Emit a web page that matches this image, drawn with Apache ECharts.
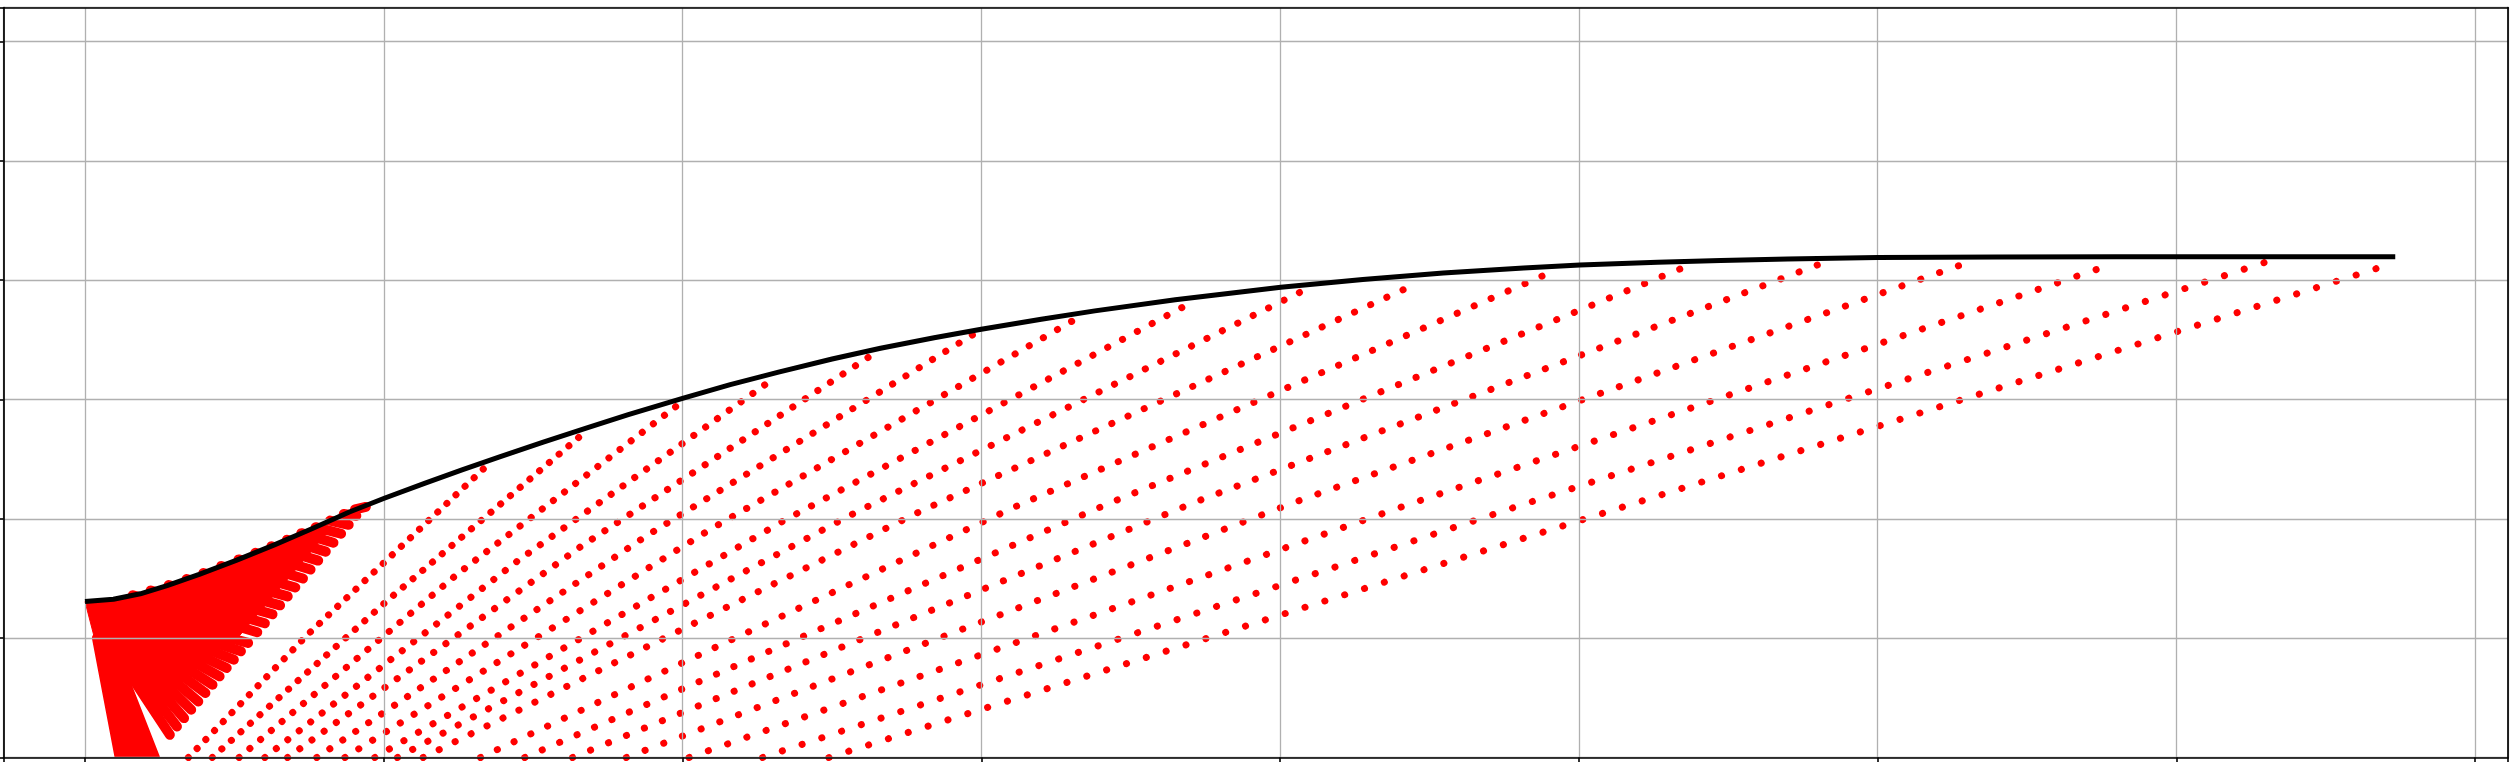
<!DOCTYPE html>
<html>
<head>
<meta charset="utf-8">
<script src="https://cdn.jsdelivr.net/npm/echarts@6/dist/echarts.min.js"></script>
<style>
html,body{margin:0;padding:0;background:#ffffff;}
#chart{width:2520px;height:762px;}
</style>
</head>
<body>
<div id="chart"></div>
<script>
// ---------------- DATA ----------------
// Nozzle wall contour (black curve)
const wallX = [0, 0.0476, 0.0925, 0.1373, 0.1912, 0.2540, 0.3169, 0.3797, 0.4425, 0.5009,
  0.5682, 0.6310, 0.6939, 0.7657, 0.8375, 0.9093, 1.0000, 1.0799, 1.1607, 1.2504,
  1.3314, 1.4211, 1.5000, 1.6004, 1.6901, 1.8247, 2.0013, 2.1386, 2.2731, 2.4076,
  2.5018, 2.6318, 2.7377, 2.8495, 3.0000, 3.2000, 3.4000, 3.6000, 3.8665];
const wallY = [0.2614, 0.2653, 0.2744, 0.2881, 0.3068, 0.3307, 0.3563, 0.3835, 0.4115, 0.4345,
  0.4595, 0.4820, 0.5040, 0.5283, 0.5518, 0.5747, 0.6020, 0.6250, 0.6460, 0.6678,
  0.6858, 0.7035, 0.7178, 0.7345, 0.7485, 0.7672, 0.7880, 0.8013, 0.8122, 0.8206,
  0.8253, 0.8300, 0.8330, 0.8355, 0.8378, 0.8390, 0.8392, 0.8392, 0.8392];

// Sparse characteristic lines: start on the axis (y = 0), one middle point, end at the wall
const charStartX = [0.173, 0.213, 0.258, 0.301, 0.339, 0.388, 0.435, 0.485, 0.523, 0.566, 0.662, 0.736, 0.816, 0.906, 1.011, 1.134, 1.245];
const charMidX   = [0.3727, 0.506, 0.624, 0.726, 0.829, 0.942, 1.0475, 1.1715, 1.2805, 1.397, 1.5585, 1.714, 1.863, 2.036, 2.2035, 2.393, 2.5535];
const charMidY   = [0.206, 0.263, 0.308, 0.331, 0.353, 0.373, 0.383, 0.398, 0.406, 0.412, 0.421, 0.426, 0.430, 0.432, 0.420, 0.4195, 0.4135];
const charEndX   = [0.681, 0.834, 0.990, 1.151, 1.319, 1.496, 1.660, 1.858, 2.038, 2.228, 2.455, 2.692, 2.910, 3.166, 3.396, 3.652, 3.862];
const charEndY   = [0.497, 0.543, 0.589, 0.634, 0.676, 0.715, 0.736, 0.766, 0.782, 0.794, 0.814, 0.828, 0.8295, 0.835, 0.828, 0.831, 0.828];

// Dense expansion fan near the throat: ray segments (start -> end)
const fanStartX = [0.020, 0.025, 0.030, 0.035, 0.040, 0.044,
  0.045, 0.049, 0.053, 0.057, 0.061, 0.065, 0.069, 0.073, 0.077, 0.081, 0.085, 0.089,
  0.080, 0.110, 0.140, 0.170, 0.198, 0.228, 0.257, 0.285, 0.312, 0.338, 0.362, 0.386, 0.410, 0.433, 0.452];
const fanStartY = [0.200, 0.198, 0.196, 0.193, 0.190, 0.187,
  0.185, 0.190, 0.195, 0.200, 0.205, 0.210, 0.215, 0.220, 0.225, 0.230, 0.235, 0.240,
  0.272, 0.280, 0.289, 0.299, 0.309, 0.321, 0.332, 0.343, 0.354, 0.365, 0.376, 0.386, 0.397, 0.408, 0.416];
const fanEndX = [0.058, 0.070, 0.082, 0.094, 0.106, 0.117,
  0.142, 0.1539, 0.1658, 0.1777, 0.1896, 0.2015, 0.2134, 0.2253, 0.2372, 0.2491, 0.2610, 0.2730,
  0.2883, 0.3010, 0.3138, 0.3265, 0.3393, 0.3520, 0.3648, 0.3775, 0.3903, 0.4030, 0.4158, 0.4286, 0.4413, 0.4541, 0.4700];
const fanEndY = [0, 0, 0, 0, 0, 0,
  0.038, 0.052, 0.066, 0.080, 0.094, 0.108, 0.122, 0.136, 0.150, 0.164, 0.178, 0.192,
  0.210, 0.225, 0.240, 0.255, 0.270, 0.285, 0.300, 0.315, 0.330, 0.345, 0.360, 0.375, 0.390, 0.405, 0.420];

// Solid core of the fan (outline)
const coreX = [0, 0.0476, 0.0925, 0.1373, 0.1912, 0.2540, 0.3169, 0.3797, 0.4000, 0.4080, 0.3400, 0.2550, 0.0900, 0.0450, 0.0167];
const coreY = [0.2614, 0.2653, 0.2744, 0.2881, 0.3068, 0.3307, 0.3563, 0.3835, 0.3927, 0.3800, 0.3000, 0.2000, 0.2150, 0.1850, 0.1970];

// Axis extents and grid steps
const xRange = [-0.1364, 4.0552];
const yRange = [0, 1.257];
const xStep = 0.5;
const yStep = 0.2;

// ---------------- STYLE ----------------
const RED = '#ff0000';
const dotGap = [12.5, 12.8, 14, 14.5, 15, 15.6, 16.3, 16.8, 17.2, 17.8, 18.5, 19, 19.4, 20, 20.4, 20.8, 20.8];

const chart = echarts.init(document.getElementById('chart'), null, {renderer: 'canvas'});

const series = [];

// core polygon
series.push({
  type: 'custom', coordinateSystem: 'cartesian2d', xAxisIndex: 0, yAxisIndex: 0,
  clip: true, z: 2, silent: true, animation: false,
  data: [[coreX[0], coreY[0]]],
  encode: {x: 0, y: 1},
  renderItem: function (params, api) {
    return {
      type: 'polygon',
      shape: {points: coreX.map(function (x, i) { return api.coord([x, coreY[i]]); })},
      style: {fill: RED, stroke: RED, lineWidth: 1}
    };
  }
});

// fan rays
series.push({
  type: 'custom', coordinateSystem: 'cartesian2d', xAxisIndex: 0, yAxisIndex: 0,
  clip: true, z: 2, silent: true, animation: false,
  data: fanStartX.map(function (x, i) { return [x, fanStartY[i], fanEndX[i], fanEndY[i]]; }),
  encode: {x: [0, 2], y: [1, 3]},
  renderItem: function (params, api) {
    const p1 = api.coord([api.value(0), api.value(1)]);
    const p2 = api.coord([api.value(2), api.value(3)]);
    return {
      type: 'line',
      shape: {x1: p1[0], y1: p1[1], x2: p2[0], y2: p2[1]},
      style: {stroke: RED, lineWidth: 10, lineCap: 'round', fill: null}
    };
  }
});

// sparse dotted characteristic lines
charStartX.forEach(function (x0, i) {
  series.push({
    type: 'line', xAxisIndex: 0, yAxisIndex: 0,
    data: [[x0, 0], [charMidX[i], charMidY[i]], [charEndX[i], charEndY[i]]],
    showSymbol: false, symbol: 'none', clip: true, silent: true, animation: false, z: 2,
    lineStyle: {color: RED, width: 7, type: [0.1, dotGap[i] - 0.1], cap: 'round'}
  });
});

// wall contour
series.push({
  type: 'line', xAxisIndex: 0, yAxisIndex: 0,
  data: wallX.map(function (x, i) { return [x, wallY[i]]; }),
  showSymbol: false, symbol: 'none', clip: true, silent: true, animation: false, z: 10,
  smooth: false,
  lineStyle: {color: '#000000', width: 5, cap: 'butt', join: 'round'}
});

const frameLine = {show: true, onZero: false, lineStyle: {color: '#000000', width: 1.7}};

chart.setOption({
  animation: false,
  backgroundColor: '#ffffff',
  grid: {left: 3.5, right: 12, top: 7.5, bottom: 4.5, containLabel: false, outerBoundsMode: 'none'},
  xAxis: [
    {
      type: 'value', position: 'bottom', min: xRange[0], max: xRange[1],
      minInterval: xStep, maxInterval: xStep, splitNumber: 8, z: 3,
      axisLine: frameLine,
      axisTick: {show: true, inside: false, length: 6, lineStyle: {color: '#000000', width: 1.6}},
      axisLabel: {show: false},
      splitLine: {show: true, lineStyle: {color: '#b0b0b0', width: 1.3}}
    },
    {
      type: 'value', position: 'top', min: xRange[0], max: xRange[1], z: 3,
      axisLine: frameLine, axisTick: {show: false}, axisLabel: {show: false}, splitLine: {show: false}
    }
  ],
  yAxis: [
    {
      type: 'value', position: 'left', min: yRange[0], max: yRange[1], interval: yStep, z: 3,
      axisLine: frameLine,
      axisTick: {show: true, inside: false, length: 6, lineStyle: {color: '#000000', width: 1.6}},
      axisLabel: {show: false},
      splitLine: {show: true, lineStyle: {color: '#b0b0b0', width: 1.3}}
    },
    {
      type: 'value', position: 'right', min: yRange[0], max: yRange[1], z: 3,
      axisLine: frameLine, axisTick: {show: false}, axisLabel: {show: false}, splitLine: {show: false}
    }
  ],
  series: series
});
</script>
</body>
</html>
